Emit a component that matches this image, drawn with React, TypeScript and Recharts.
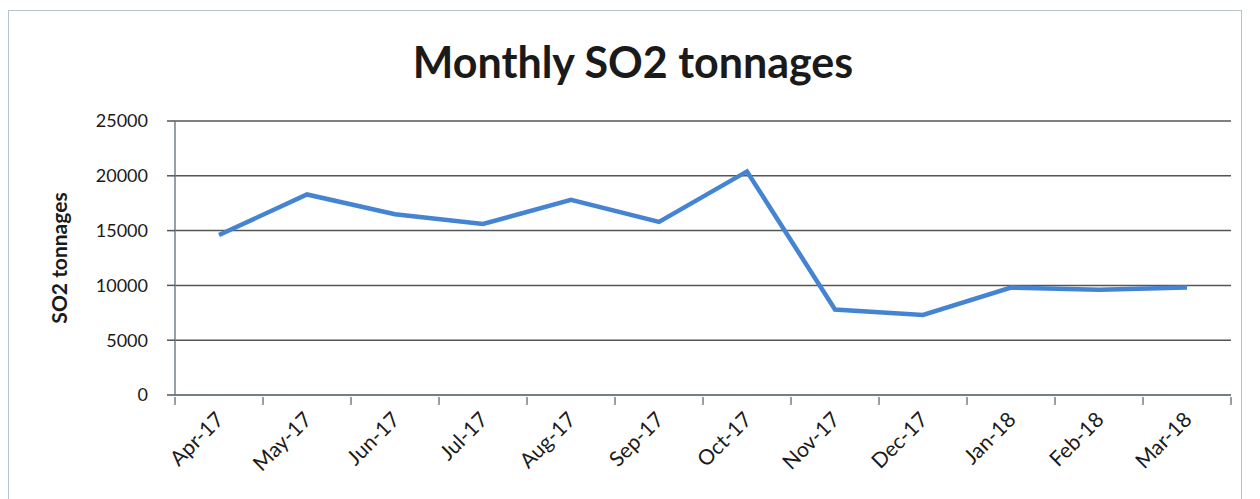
import React from 'react';
import { LineChart, Line, XAxis, YAxis, CartesianGrid } from 'recharts';

const months = ['Apr-17', 'May-17', 'Jun-17', 'Jul-17', 'Aug-17', 'Sep-17', 'Oct-17', 'Nov-17', 'Dec-17', 'Jan-18', 'Feb-18', 'Mar-18'];
const tonnages = [14600, 18300, 16500, 15600, 17800, 15800, 20400, 7800, 7300, 9800, 9600, 9800];
const yTicks = [0, 5000, 10000, 15000, 20000, 25000];

const data = months.map((month, i) => ({ month, value: tonnages[i] }));

const WIDTH = 1244;
const HEIGHT = 491;
const PLOT_LEFT = 167;
const PLOT_RIGHT = 1223;
const HALF_BAND = (PLOT_RIGHT - PLOT_LEFT) / months.length / 2;

const axisColor = '#6f7f8c';
const font = 'Lato, "Open Sans", sans-serif';

const MonthTick = (props: any) => {
  const { x, y, payload, index } = props;
  return (
    <g>
      <line x1={x - HALF_BAND} y1={y - 8} x2={x - HALF_BAND} y2={y} stroke={axisColor} strokeWidth={1.5} />
      {index === months.length - 1 && (
        <line x1={x + HALF_BAND} y1={y - 8} x2={x + HALF_BAND} y2={y} stroke={axisColor} strokeWidth={1.5} />
      )}
      <text
        x={x + 6}
        y={y + 16}
        textAnchor="end"
        transform={`rotate(-45, ${x + 6}, ${y + 16})`}
        fontSize={21}
        fontFamily={font}
        fill="#1a1a1a"
      >
        {payload.value}
      </text>
    </g>
  );
};

const App: React.FC = () => {
  return (
    <div style={{ position: 'relative', width: WIDTH, height: HEIGHT, fontFamily: font }}>
      <div
        style={{
          position: 'absolute',
          left: 0,
          top: 2,
          right: 10,
          bottom: -10,
          border: '1.5px solid #b9c3cc',
        }}
      />
      <div
        style={{
          position: 'absolute',
          top: 28,
          left: 0,
          width: 1250,
          textAlign: 'center',
          fontSize: 43,
          fontWeight: 700,
          color: '#1a1a1a',
          fontFamily: font,
        }}
      >
        Monthly SO2 tonnages
      </div>
      <LineChart
        width={WIDTH}
        height={HEIGHT}
        data={data}
        margin={{ top: 113, right: WIDTH - PLOT_RIGHT, left: 0, bottom: 24 }}
        style={{ position: 'absolute', left: 0, top: 0 }}
      >
        <CartesianGrid vertical={false} stroke="#555" strokeWidth={1.5} />
        <XAxis
          dataKey="month"
          scale="band"
          height={80}
          tickLine={false}
          tickSize={8}
          interval={0}
          axisLine={{ stroke: axisColor, strokeWidth: 1.5 }}
          tick={<MonthTick />}
        />
        <YAxis
          width={PLOT_LEFT}
          domain={[0, 25000]}
          ticks={yTicks}
          tickSize={8}
          tickMargin={19}
          axisLine={{ stroke: axisColor, strokeWidth: 1.5 }}
          tickLine={{ stroke: '#555', strokeWidth: 1.5 }}
          tick={{ fontSize: 18, fill: '#1a1a1a', fontFamily: font }}
          label={{
            value: 'SO2 tonnages',
            angle: -90,
            position: 'insideLeft',
            offset: 52,
            style: { fontSize: 21, fontWeight: 700, fill: '#1a1a1a', fontFamily: font, textAnchor: 'middle' },
          }}
        />
        <Line
          type="linear"
          dataKey="value"
          stroke="#4584d2"
          strokeWidth={4.5}
          dot={false}
          isAnimationActive={false}
        />
      </LineChart>
    </div>
  );
};

export default App;
